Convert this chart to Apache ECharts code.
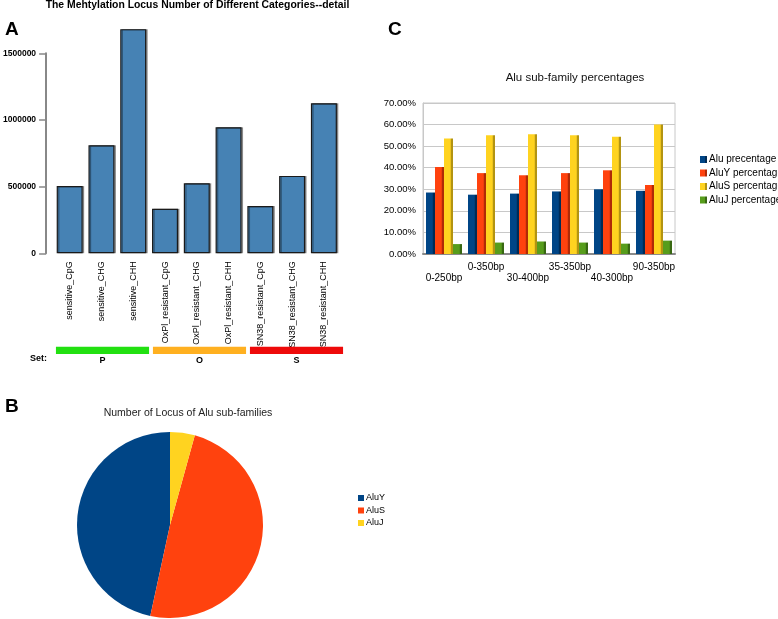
<!DOCTYPE html>
<html>
<head>
<meta charset="utf-8">
<script src="https://cdn.jsdelivr.net/npm/echarts@6/dist/echarts.min.js"></script>
<style>
html,body{margin:0;padding:0;background:#fff;}
#chart{width:778px;height:619px;}
</style>
</head>
<body>
<div id="chart"></div>
<script>
// ---- Panel A data ----
const catsA = ['sensitive_CpG','sensitive_CHG','sensitive_CHH','OxPl_resistant_CpG','OxPl_resistant_CHG','OxPl_resistant_CHH','SN38_resistant_CpG','SN38_resistant_CHG','SN38_resistant_CHH'];
const valsA = [505000, 810000, 1680000, 334000, 525000, 945000, 355000, 580000, 1125000];
const ticksA = [0, 500000, 1000000, 1500000];
const setNames = ['P','O','S'];
const setValues = [1, 1, 1];

// ---- Panel B data ----
const pieNames = ['AluY','AluS','AluJ'];
const pieValues = [46.6, 49.1, 4.3];

// ---- Panel C data ----
const catsC = ['0-250bp','0-350bp','30-400bp','35-350bp','40-300bp','90-350bp'];
const seriesNamesC = ['Alu precentage','AluY percentage','AluS percentage','AluJ percentage'];
const aluPct  = [0.285, 0.275, 0.280, 0.290, 0.300, 0.293];
const aluYPct = [0.403, 0.375, 0.365, 0.375, 0.388, 0.320];
const aluSPct = [0.535, 0.550, 0.555, 0.550, 0.543, 0.600];
const aluJPct = [0.046, 0.053, 0.058, 0.053, 0.048, 0.062];

const FONT = '"Liberation Sans", Arial, sans-serif';
const setColors = ['#22e011', '#ffb020', '#ee0a0a'];
const pieColors = ['#004586', '#ff420e', '#ffd320'];
const cColors = [['#004586','#002b55'], ['#ff420e','#b02a06'], ['#ffd320','#b39412'], ['#579d1c','#386812']];

function grad(c) {
  return new echarts.graphic.LinearGradient(0, 0, 1, 0, [
    {offset: 0, color: c[0]}, {offset: 0.72, color: c[0]},
    {offset: 0.73, color: c[1]}, {offset: 1, color: c[1]}
  ]);
}

const chart = echarts.init(document.getElementById('chart'), null, {renderer: 'canvas'});

const option = {
  animation: false,
  backgroundColor: '#fff',
  textStyle: {fontFamily: FONT},
  grid: [
    {left: 53.8, width: 286, top: 26.5, height: 226.8},   // A bars
    {left: 44, width: 296, top: 53.3, height: 200},        // A axis only
    {left: 54, width: 291, top: 346.7, height: 7.3},       // set bar
    {left: 423, width: 252, top: 103, height: 151, show: true, borderColor: '#c8c8c8', borderWidth: 1} // C
  ],
  xAxis: [
    {gridIndex: 0, type: 'category', data: catsA,
     axisLine: {show: false}, axisTick: {show: false},
     axisLabel: {rotate: 90, interval: 0, margin: 8, fontSize: 9, color: '#000', fontFamily: FONT}},
    {gridIndex: 1, type: 'category', data: catsA, show: false},
    {gridIndex: 2, type: 'category', data: setNames,
     axisLine: {show: false}, axisTick: {show: false},
     axisLabel: {margin: 2, fontSize: 9, fontWeight: 'bold', color: '#000', fontFamily: FONT}},
    {gridIndex: 3, type: 'category', data: catsC,
     axisLine: {show: true, lineStyle: {color: '#8a8a8a', width: 2}}, axisTick: {show: false},
     axisLabel: {interval: 0, margin: 8, fontSize: 10, lineHeight: 11, color: '#000', fontFamily: FONT,
       formatter: function (v, i) { return i % 2 === 0 ? '\n' + v : v; }}}
  ],
  yAxis: [
    {gridIndex: 0, type: 'value', min: 0, max: 1700000, show: false},
    {gridIndex: 1, type: 'value', min: 0, max: 1500000, interval: 500000,
     axisLine: {show: true, lineStyle: {color: '#888', width: 2}},
     axisTick: {show: true, length: 7, lineStyle: {color: '#888', width: 1.5}, customValues: ticksA},
     axisLabel: {margin: 10, fontSize: 8.5, fontWeight: 'bold', color: '#000', fontFamily: FONT, customValues: ticksA,
       formatter: function (v) { return String(v); }},
     splitLine: {show: false}},
    {gridIndex: 2, type: 'value', min: 0, max: 1, show: false},
    {gridIndex: 3, type: 'value', min: 0, max: 0.7, interval: 0.1,
     axisLine: {show: true, lineStyle: {color: '#c8c8c8'}},
     axisTick: {show: false},
     axisLabel: {margin: 7, fontSize: 9.5, color: '#000', fontFamily: FONT,
       formatter: function (v) { return (v * 100).toFixed(2) + '%'; }},
     splitLine: {show: true, lineStyle: {color: '#c8c8c8', width: 1}}}
  ],
  legend: [
    {data: pieNames, orient: 'vertical', left: 358, top: 493, padding: 0, itemWidth: 6, itemHeight: 6, itemGap: 2.5,
     icon: 'rect', textStyle: {fontSize: 9, lineHeight: 10, color: '#000', fontFamily: FONT, padding: [0, 0, 0, -3]}},
    {data: seriesNamesC, orient: 'vertical', left: 700, top: 154, padding: 0, itemWidth: 7, itemHeight: 7, itemGap: 2.5,
     icon: 'rect', textStyle: {fontSize: 10, lineHeight: 11, color: '#000', fontFamily: FONT, padding: [0, 0, 0, -3]}}
  ],
  series: [
    {type: 'bar', xAxisIndex: 0, yAxisIndex: 0, data: valsA, barWidth: 26,
     itemStyle: {color: '#4682b4', borderColor: '#1a1a1a', borderWidth: 1.2,
       shadowColor: 'rgba(0,0,0,0.35)', shadowOffsetX: 1.5, shadowOffsetY: 0, shadowBlur: 0}},
    {type: 'bar', xAxisIndex: 2, yAxisIndex: 2, barCategoryGap: '4%',
     data: setValues.map(function (v, i) { return {value: v, itemStyle: {color: setColors[i]}}; })},
    {type: 'pie', name: 'Number of Locus', center: [170, 525], radius: 93, startAngle: 90, clockwise: false,
     label: {show: false}, labelLine: {show: false},
     data: pieNames.map(function (n, i) { return {name: n, value: pieValues[i], itemStyle: {color: pieColors[i]}}; })},
    {type: 'bar', name: seriesNamesC[0], xAxisIndex: 3, yAxisIndex: 3, data: aluPct, barWidth: 9, barGap: '0%',
     itemStyle: {color: grad(cColors[0])}},
    {type: 'bar', name: seriesNamesC[1], xAxisIndex: 3, yAxisIndex: 3, data: aluYPct, barWidth: 9, barGap: '0%',
     itemStyle: {color: grad(cColors[1])}},
    {type: 'bar', name: seriesNamesC[2], xAxisIndex: 3, yAxisIndex: 3, data: aluSPct, barWidth: 9, barGap: '0%',
     itemStyle: {color: grad(cColors[2])}},
    {type: 'bar', name: seriesNamesC[3], xAxisIndex: 3, yAxisIndex: 3, data: aluJPct, barWidth: 9, barGap: '0%',
     itemStyle: {color: grad(cColors[3])}}
  ],
  graphic: [
    {type: 'text', style: {text: 'The Mehtylation Locus Number of Different Categories--detail', x: 197.5, y: 5.5,
      textAlign: 'center', textVerticalAlign: 'middle', font: 'bold 10.4px ' + FONT, fill: '#000'}},
    {type: 'text', style: {text: 'A', x: 5, y: 30, textVerticalAlign: 'middle', font: 'bold 19px ' + FONT, fill: '#000'}},
    {type: 'text', style: {text: 'B', x: 5, y: 407, textVerticalAlign: 'middle', font: 'bold 19px ' + FONT, fill: '#000'}},
    {type: 'text', style: {text: 'C', x: 388, y: 30, textVerticalAlign: 'middle', font: 'bold 19px ' + FONT, fill: '#000'}},
    {type: 'text', style: {text: 'Set:', x: 30, y: 359, textVerticalAlign: 'middle', font: 'bold 9px ' + FONT, fill: '#000'}},
    {type: 'text', style: {text: 'Number of Locus of Alu sub-families', x: 188, y: 413,
      textAlign: 'center', textVerticalAlign: 'middle', font: '10.5px ' + FONT, fill: '#222'}},
    {type: 'text', style: {text: 'Alu sub-family percentages', x: 575, y: 78,
      textAlign: 'center', textVerticalAlign: 'middle', font: '11.5px ' + FONT, fill: '#111'}}
  ]
};
chart.setOption(option);
</script>
</body>
</html>
